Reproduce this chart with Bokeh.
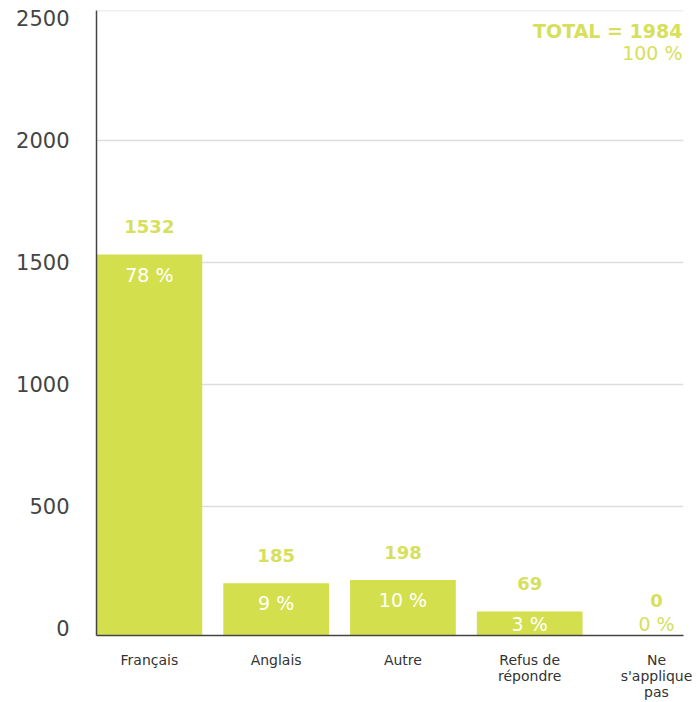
import numpy as np
from bokeh.plotting import figure
from bokeh.models import ColumnDataSource, Range1d, FixedTicker, Span, Label
from bokeh.core.properties import value
from bokeh.embed import file_html
from bokeh.resources import INLINE

categories = ["Français", "Anglais", "Autre", "Refus de\nrépondre", "Ne\ns'applique\npas"]
counts = [1532, 185, 198, 69, 0]
percents = ["78 %", "9 %", "10 %", "3 %", "0 %"]
total_label = "TOTAL = 1984"
total_pct = "100 %"
y_ticks = [0, 500, 1000, 1500, 2000, 2500]

GREEN = "#d4df4e"
TEXT_GREEN = "#d6e05c"
FONT = "DejaVu Sans"

Y_MIN, Y_MAX = -29, 2532
X_MIN, X_MAX = -0.417, 4.213

idx = np.arange(len(categories))
vals = np.array(counts, dtype=float)
bar_bottom = np.where(vals > 0, Y_MIN, 0)
pct_y = np.maximum(vals - 82, 20)
pct_colors = ["white" if v > 0 else TEXT_GREEN for v in vals]

src = ColumnDataSource(dict(x=idx, top=vals, bottom=bar_bottom, cnt=[str(c) for c in counts],
                            pct=percents, pct_y=pct_y, pct_col=pct_colors))

p = figure(width=699, height=702, output_backend="svg", toolbar_location=None,
           x_range=Range1d(X_MIN, X_MAX), y_range=Range1d(Y_MIN, Y_MAX),
           min_border_left=96, min_border_right=16, min_border_top=10, min_border_bottom=67)
p.outline_line_color = None
p.background_fill_color = "white"

p.vbar(x="x", top="top", bottom="bottom", width=0.834, source=src, fill_color=GREEN, line_color=None)

p.text(x="x", y="top", text="cnt", source=src, text_align="center", text_baseline="middle",
       y_offset=-28, text_font=value(FONT), text_font_style="bold", text_font_size="18px",
       text_color=TEXT_GREEN)
p.text(x="x", y="pct_y", text="pct", source=src, text_align="center", text_baseline="middle",
       text_font=value(FONT), text_font_size="19px", text_color="pct_col")

p.add_layout(Span(location=Y_MAX, dimension="width", line_color="#dddddd", line_width=1.5))

p.add_layout(Label(x=X_MAX, y=Y_MAX, text=total_label, x_units="data", y_units="data",
                   x_offset=-1, y_offset=-20, text_align="right", text_baseline="middle",
                   text_font=FONT, text_font_style="bold", text_font_size="19px",
                   text_color=TEXT_GREEN))
p.add_layout(Label(x=X_MAX, y=Y_MAX, text=total_pct, x_units="data", y_units="data",
                   x_offset=-1, y_offset=-42, text_align="right", text_baseline="middle",
                   text_font=FONT, text_font_size="19px", text_color=TEXT_GREEN))

# y axis
p.yaxis.ticker = FixedTicker(ticks=y_ticks)
p.yaxis.major_tick_line_color = None
p.yaxis.minor_tick_line_color = None
p.yaxis.axis_line_color = "#444444"
p.yaxis.axis_line_width = 1.5
p.yaxis.major_label_text_font = FONT
p.yaxis.major_label_text_font_size = "21px"
p.yaxis.major_label_text_color = "#444444"
p.yaxis.major_label_standoff = 21
p.ygrid.ticker = FixedTicker(ticks=y_ticks[1:-1])
p.ygrid.grid_line_color = "#dddddd"
p.ygrid.grid_line_width = 1.5
p.xgrid.grid_line_color = None

# x axis
p.xaxis.ticker = FixedTicker(ticks=list(idx))
p.xaxis.major_label_overrides = {int(i): c for i, c in zip(idx, categories)}
p.xaxis.major_tick_line_color = None
p.xaxis.minor_tick_line_color = None
p.xaxis.axis_line_color = "#444444"
p.xaxis.axis_line_width = 1.5
p.xaxis.major_label_text_font = FONT
p.xaxis.major_label_text_font_size = "14px"
p.xaxis.major_label_text_line_height = 1.0
p.xaxis.major_label_text_color = "#333333"
p.xaxis.major_label_standoff = 10

open("out.html", "w").write(file_html(p, INLINE))
